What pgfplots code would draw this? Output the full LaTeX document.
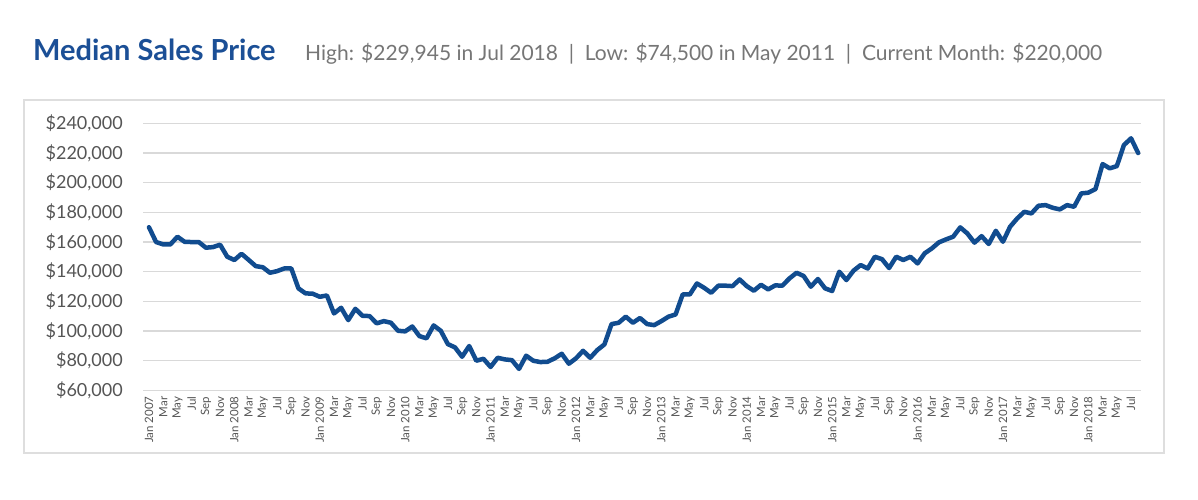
\documentclass[border=0pt]{standalone}
\usepackage{fontspec}
\setmainfont{Lato}
\usepackage{pgfplots}
\pgfplotsset{compat=1.18}
\definecolor{lineblue}{RGB}{17,76,143}
\definecolor{titleblue}{RGB}{27,79,150}
\definecolor{subgray}{RGB}{118,118,118}
\definecolor{tickgray}{RGB}{85,85,85}
\definecolor{gridgray}{RGB}{217,217,217}
\definecolor{framegray}{RGB}{222,222,222}
\begin{document}
\begin{tikzpicture}[x=1pt,y=1pt]
\path[use as bounding box, fill=white] (0,0) rectangle (1198,500);
\draw[framegray, line width=1.5pt] (24,400) rectangle (1164,47);
\node[anchor=base west, inner sep=0pt, text=titleblue, font=\fontsize{29}{32}\selectfont\bfseries] at (33,439.5) {Median Sales Price};
\node[anchor=base west, inner sep=0pt, text=subgray, font=\fontsize{21}{25}\selectfont] at (305,439.5) {High: \$229,945 in Jul 2018 \ | \ Low: \$74,500 in May 2011 \ | \ Current Month: \$220,000};
\begin{axis}[
  at={(143pt,109.6pt)}, anchor=south west,
  scale only axis, width=998pt, height=267pt,
  xmin=-0.84, xmax=139.4, ymin=60000, ymax=240000,
  axis line style={draw=none},
  major tick length=0pt,
  scaled y ticks=false,
  ymajorgrids, xmajorgrids=false,
  grid style={gridgray, line width=1.5pt},
  ytick={60000,80000,100000,120000,140000,160000,180000,200000,220000,240000},
  yticklabels={{\$60,000},{\$80,000},{\$100,000},{\$120,000},{\$140,000},{\$160,000},{\$180,000},{\$200,000},{\$220,000},{\$240,000}},
  yticklabel style={font=\fontsize{18}{21}\selectfont, text=tickgray, inner sep=0pt, anchor=east},
  yticklabel shift=20pt,
  xtick={0,2,...,138},
  xticklabels={Jan 2007,Mar,May,Jul,Sep,Nov,Jan 2008,Mar,May,Jul,Sep,Nov,Jan 2009,Mar,May,Jul,Sep,Nov,Jan 2010,Mar,May,Jul,Sep,Nov,Jan 2011,Mar,May,Jul,Sep,Nov,Jan 2012,Mar,May,Jul,Sep,Nov,Jan 2013,Mar,May,Jul,Sep,Nov,Jan 2014,Mar,May,Jul,Sep,Nov,Jan 2015,Mar,May,Jul,Sep,Nov,Jan 2016,Mar,May,Jul,Sep,Nov,Jan 2017,Mar,May,Jul,Sep,Nov,Jan 2018,Mar,May,Jul},
  xticklabel style={font=\fontsize{11.5}{13}\selectfont, text=tickgray, inner sep=0pt, rotate=90, anchor=east},
  xticklabel shift=6pt,
  clip=false,
]
\addplot[lineblue, line width=4.5pt, line join=round, line cap=round, mark=none] table[x=i, y=v] {
i v
0 170000
1 160000
2 158400
3 158400
4 163600
5 160200
6 160000
7 160000
8 156200
9 156600
10 158200
11 150100
12 147900
13 152100
14 148000
15 143800
16 143000
17 139300
18 140400
19 142200
20 142200
21 128800
22 125400
23 125200
24 123100
25 124000
26 111900
27 115700
28 107400
29 115000
30 110300
31 110100
32 105200
33 106700
34 105600
35 100200
36 99800
37 103100
38 96600
39 95100
40 103800
41 100200
42 91200
43 89000
44 82700
45 89900
46 80000
47 81300
48 75800
49 82000
50 80900
51 80400
52 74500
53 83400
54 80000
55 79100
56 79300
57 81600
58 84700
59 78000
60 81600
61 86700
62 82000
63 87200
64 91000
65 104700
66 105600
67 109700
68 105600
69 108800
70 104700
71 104000
72 106700
73 109700
74 111200
75 124700
76 124700
77 132100
78 129200
79 125800
80 130600
81 130600
82 130300
83 134800
84 130300
85 127200
86 131200
87 128100
88 130800
89 130600
90 135500
91 139300
92 137100
93 129900
94 135100
95 128800
96 127000
97 140000
98 134400
99 140700
100 144500
101 142200
102 150100
103 148500
104 142500
105 150100
106 147900
107 150100
108 145600
109 152400
110 155700
111 159800
112 161800
113 163600
114 169900
115 165800
116 159600
117 164000
118 158700
119 167600
120 160200
121 170300
122 175900
123 180400
124 179300
125 184500
126 184900
127 183100
128 182000
129 184900
130 183800
131 192800
132 193300
133 195700
134 212600
135 209700
136 211200
137 225400
138 229945
139 220000
};
\end{axis}
\end{tikzpicture}
\end{document}
